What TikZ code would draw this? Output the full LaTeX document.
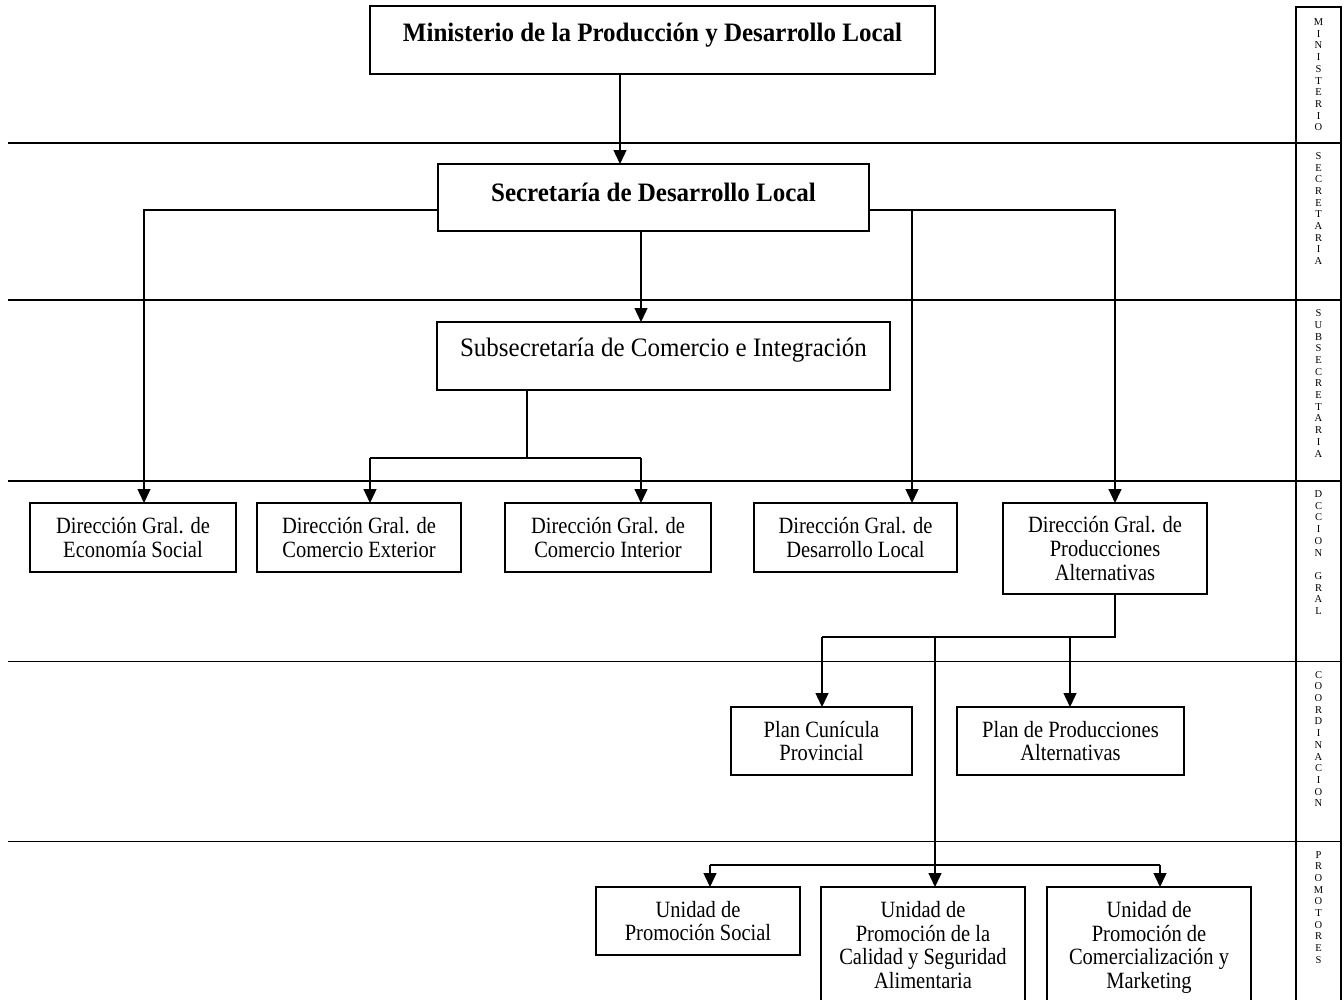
\documentclass[tikz,border=0pt]{standalone}
\usepackage{fontspec}
\setmainfont{Liberation Serif}[FakeStretch=0.88]
\newfontfamily\titlefont{Liberation Serif}[FakeStretch=0.94]
\newfontfamily\lblfont{Liberation Serif}
\usetikzlibrary{arrows.meta}
\begin{document}
\begin{tikzpicture}[x=1pt,y=-1pt,
  box/.style={draw, line width=1.6pt, fill=white, anchor=north west, inner sep=0pt, outer sep=0pt, align=center, font=\fontsize{23.3}{23.8}\selectfont},
  conn/.style={line width=1.4pt},
  arr/.style={conn, -{Triangle[length=14pt,width=13pt]}},
  band/.style={line width=1.8pt},
  lvl/.style={anchor=north, inner sep=0pt, align=center, font=\lblfont\fontsize{10.5}{11.7}\selectfont}]
\useasboundingbox (0,0) rectangle (1344,999);
\fill[white] (0,0) rectangle (1344,999);
\clip (0,0) rectangle (1344,999);
% bands
\foreach \yy in {142.7,300,481,661.5,841.5} \draw[band] (8,\yy) -- (1341,\yy);
\draw[line width=2.6pt] (1296,1010) -- (1296,7) -- (1341,7) -- (1341,1010);
% level labels
\node[lvl] (lmin) at (1318.5,18.5) {M\\I\\N\\I\\S\\T\\E\\R\\I\\O};
\node[lvl] (lsec) at (1318.5,152.2) {S\\E\\C\\R\\E\\T\\A\\R\\I\\A};
\node[lvl] (lsub) at (1318.5,309.5) {S\\U\\B\\S\\E\\C\\R\\E\\T\\A\\R\\I\\A};
\node[lvl] (ldg) at (1318.5,490.5) {D\\C\\C\\I\\O\\N\\[11.7pt]G\\R\\A\\L};
\node[lvl] (lco) at (1318.5,671) {C\\O\\O\\R\\D\\I\\N\\A\\C\\I\\O\\N};
\node[lvl] (lpr) at (1318.5,851) {P\\R\\O\\M\\O\\T\\O\\R\\E\\S};
% boxes
\node[box, minimum width=565pt, minimum height=68pt, text height=35.5pt, text depth=32.5pt, font=\titlefont\bfseries\fontsize{26.6}{30}\selectfont] (min) at (370,6) {Ministerio de la Producción y Desarrollo Local};
\node[box, minimum width=431pt, minimum height=67pt, text height=37.5pt, text depth=29.5pt, font=\titlefont\bfseries\fontsize{26.6}{30}\selectfont] (sec) at (438,164) {Secretaría de Desarrollo Local};
\node[box, minimum width=453pt, minimum height=68pt, text height=34.5pt, text depth=33.5pt, font=\titlefont\fontsize{26.6}{30}\selectfont] (sub) at (437,322) {Subsecretaría de Comercio e Integración};
\node[box, minimum width=206pt, minimum height=69pt] (eco) at (30,503) {Dirección Gral. de\\Economía Social};
\node[box, minimum width=204pt, minimum height=69pt] (cext) at (257,503) {Dirección Gral. de\\Comercio Exterior};
\node[box, minimum width=206pt, minimum height=69pt] (cint) at (505,503) {Dirección Gral. de\\Comercio Interior};
\node[box, minimum width=203pt, minimum height=69pt] (dloc) at (754,503) {Dirección Gral. de\\Desarrollo Local};
\node[box, minimum width=204pt, minimum height=91pt] (prod) at (1003,503) {Dirección Gral. de\\Producciones\\Alternativas};
\node[box, minimum width=181pt, minimum height=68pt] (pc) at (731,707) {Plan Cunícula\\Provincial};
\node[box, minimum width=227pt, minimum height=68pt] (pp) at (957,707) {Plan de Producciones\\Alternativas};
\node[box, minimum width=204pt, minimum height=68pt] (us) at (596,887) {Unidad de\\Promoción Social};
\node[box, minimum width=204pt, minimum height=123pt] (uc) at (821,887) {Unidad de\\Promoción de la\\Calidad y Seguridad\\Alimentaria\strut};
\node[box, minimum width=204pt, minimum height=123pt] (ucm) at (1047,887) {Unidad de\\Promoción de\\Comercialización y\\Marketing\strut};
% helper coordinates
\coordinate (xa) at (620,0);
\coordinate (ya) at (0,210);
\coordinate (xeco) at (144,0);
\coordinate (xprod) at (1115,0);
\coordinate (xdl) at (912,0);
\coordinate (xb) at (641,0);
\coordinate (xc) at (527,0);
\coordinate (yc) at (0,458);
\coordinate (xce) at (370,0);
\coordinate (yd) at (0,637);
\coordinate (xpc) at (822,0);
\coordinate (xpp) at (1070,0);
\coordinate (xm) at (935,0);
\coordinate (ye) at (0,865);
\coordinate (xus) at (710,0);
\coordinate (xucm) at (1160,0);
% connectors
\draw[arr] (min.south -| xa) -- (sec.north -| xa);
\draw[arr] (sec.west |- ya) -| (eco.north -| xeco);
\draw[arr] (sec.east |- ya) -| (prod.north -| xprod);
\draw[arr] (xdl |- ya) -- (dloc.north -| xdl);
\draw[arr] (sec.south -| xb) -- (sub.north -| xb);
\draw[conn] (sub.south -| xc) -- (xc |- yc);
\draw[conn] (xce |- yc) -- (xb |- yc);
\draw[arr] (xce |- yc) -- (cext.north -| xce);
\draw[arr] (xb |- yc) -- (cint.north -| xb);
\draw[conn] (prod.south -| xprod) -- (xprod |- yd) -- (xpc |- yd);
\draw[arr] (xpc |- yd) -- (pc.north -| xpc);
\draw[arr] (xpp |- yd) -- (pp.north -| xpp);
\draw[arr] (xm |- yd) -- (uc.north -| xm);
\draw[conn] (xus |- ye) -- (xucm |- ye);
\draw[arr] (xus |- ye) -- (us.north -| xus);
\draw[arr] (xucm |- ye) -- (ucm.north -| xucm);
\end{tikzpicture}
\end{document}
